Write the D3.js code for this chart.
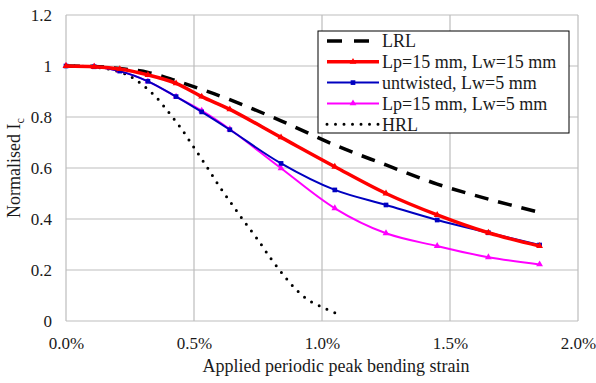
<!DOCTYPE html>
<html>
<head>
<meta charset="utf-8">
<script src="https://cdn.jsdelivr.net/npm/d3@7"></script>
<style>
  body { margin: 0; background: #fff; }
</style>
</head>
<body>
<div id="chart"></div>
<script>
// applied periodic peak bending strain (%), shared by the measured series
const strain = [0, 0.11, 0.21, 0.32, 0.43, 0.53, 0.64, 0.84, 1.05, 1.25, 1.45, 1.65, 1.85];
const lrl = [1.0, 0.998, 0.99, 0.975, 0.942, 0.908, 0.868, 0.785, 0.69, 0.612, 0.537, 0.478, 0.426];
const lp15lw15 = [1.0, 0.997, 0.988, 0.965, 0.932, 0.88, 0.83, 0.72, 0.605, 0.50, 0.416, 0.346, 0.294];
const untwisted = [1.0, 0.997, 0.98, 0.94, 0.88, 0.82, 0.75, 0.618, 0.514, 0.455, 0.396, 0.346, 0.298];
const lp15lw5 = [1.0, 0.997, 0.98, 0.94, 0.88, 0.825, 0.752, 0.599, 0.442, 0.344, 0.294, 0.25, 0.222];

// HRL curve
const hrlStrain = [0, 0.1, 0.2, 0.25, 0.3, 0.35, 0.4, 0.45, 0.5, 0.55, 0.6, 0.65, 0.7, 0.75, 0.8, 0.85, 0.9, 0.95, 1.0, 1.05];
const hrl = [1.0, 0.997, 0.98, 0.96, 0.925, 0.88, 0.82, 0.755, 0.68, 0.605, 0.527, 0.455, 0.385, 0.318, 0.245, 0.18, 0.122, 0.08, 0.055, 0.032];

const xTicks = [0, 0.5, 1.0, 1.5, 2.0];
const xTickLabels = ['0.0%', '0.5%', '1.0%', '1.5%', '2.0%'];
const yTicks = [0, 0.2, 0.4, 0.6, 0.8, 1, 1.2];
const yTickLabels = ['0', '0.2', '0.4', '0.6', '0.8', '1', '1.2'];

const seriesNames = ['LRL', 'Lp=15 mm, Lw=15 mm', 'untwisted, Lw=5 mm', 'Lp=15 mm, Lw=5 mm', 'HRL'];

const FONT = '"Liberation Serif", "Times New Roman", serif';
const W = 596, H = 383;
const margins = { top: 15, right: 18, bottom: 62, left: 66 };
const width = W - margins.left - margins.right;
const height = H - margins.top - margins.bottom;

const svg = d3.select('#chart').append('svg')
  .attr('width', W).attr('height', H);
svg.append('rect').attr('width', W).attr('height', H).attr('fill', '#fff');

const g = svg.append('g').attr('transform', `translate(${margins.left},${margins.top})`);

const x = d3.scaleLinear().domain([0, 2]).range([0, width]);
const y = d3.scaleLinear().domain([0, 1.2]).range([height, 0]);

// grid
g.selectAll('.hgrid').data(yTicks).enter().append('line')
  .attr('x1', 0).attr('x2', width)
  .attr('y1', d => y(d)).attr('y2', d => y(d))
  .attr('stroke', '#bdbdbd').attr('stroke-width', 1.2);
g.selectAll('.vgrid').data(xTicks).enter().append('line')
  .attr('y1', 0).attr('y2', height)
  .attr('x1', d => x(d)).attr('x2', d => x(d))
  .attr('stroke', '#bdbdbd').attr('stroke-width', 1.2);

// axes (labels only)
const xAxis = g.append('g')
  .attr('transform', `translate(0,${height})`)
  .call(d3.axisBottom(x).tickValues(xTicks).tickSize(0).tickPadding(16)
    .tickFormat((d, i) => xTickLabels[i]));
const yAxis = g.append('g')
  .call(d3.axisLeft(y).tickValues(yTicks).tickSize(0).tickPadding(14)
    .tickFormat((d, i) => yTickLabels[i]));
[xAxis, yAxis].forEach(a => {
  a.select('.domain').remove();
  a.attr('font-family', FONT).attr('font-size', 17);
  a.selectAll('text').attr('fill', '#1a1a1a');
});

svg.append('text')
  .attr('x', 336).attr('y', 372)
  .attr('text-anchor', 'middle')
  .attr('font-family', FONT)
  .attr('font-size', 18)
  .attr('fill', '#1a1a1a')
  .text('Applied periodic peak bending strain');

const yt = svg.append('text')
  .attr('transform', 'translate(20,168) rotate(-90)')
  .attr('text-anchor', 'middle')
  .attr('font-family', FONT)
  .attr('font-size', 18)
  .attr('fill', '#1a1a1a');
yt.append('tspan').text('Normalised I');
yt.append('tspan').attr('dy', 4).attr('font-size', 12).text('c');

const line = d3.line()
  .x(d => x(d[0])).y(d => y(d[1]))
  .curve(d3.curveCatmullRom.alpha(0.5));

const zip = (a, b) => a.map((v, i) => [v, b[i]]);

const styles = [
  { color: '#000', width: 3.5, dash: '14,10', cap: 'butt', marker: null },
  { color: '#ff0000', width: 3.5, dash: null, cap: 'butt', marker: 'triangle' },
  { color: '#0000c0', width: 2, dash: null, cap: 'butt', marker: 'square' },
  { color: '#ff00ff', width: 2, dash: null, cap: 'butt', marker: 'triangle' },
  { color: '#000', width: 3, dash: '0,8.5', cap: 'round', marker: null }
];

const datasets = [
  zip(strain, lrl),
  zip(strain, lp15lw15),
  zip(strain, untwisted),
  zip(strain, lp15lw5),
  zip(hrlStrain, hrl)
];

const drawOrder = [4, 0, 3, 2, 1];
drawOrder.forEach(i => {
  const s = styles[i];
  g.append('path')
    .datum(datasets[i])
    .attr('fill', 'none')
    .attr('stroke', s.color)
    .attr('stroke-width', s.width)
    .attr('stroke-dasharray', s.dash)
    .attr('stroke-linecap', s.cap)
    .attr('d', line);
  if (s.marker) {
    const sym = d3.symbol().type(s.marker === 'square' ? d3.symbolSquare : d3.symbolTriangle)
      .size(s.marker === 'square' ? 22 : 20);
    g.selectAll(null).data(datasets[i]).enter().append('path')
      .attr('transform', d => `translate(${x(d[0])},${y(d[1])})`)
      .attr('d', sym)
      .attr('fill', s.color);
  }
});

// legend
const lg = svg.append('g').attr('transform', 'translate(318,31)');
lg.append('rect').attr('width', 251).attr('height', 102)
  .attr('fill', '#fff').attr('stroke', '#000').attr('stroke-width', 1);
seriesNames.forEach((name, i) => {
  const s = styles[i];
  const cy = 10 + i * 20.8;
  lg.append('line')
    .attr('x1', 9).attr('x2', 61).attr('y1', cy).attr('y2', cy)
    .attr('stroke', s.color).attr('stroke-width', s.width)
    .attr('stroke-dasharray', s.dash === '14,10' ? '15,12' : s.dash)
    .attr('stroke-linecap', s.cap);
  if (s.marker) {
    const sym = d3.symbol().type(s.marker === 'square' ? d3.symbolSquare : d3.symbolTriangle)
      .size(s.marker === 'square' ? 22 : 20);
    lg.append('path').attr('transform', `translate(35,${cy})`).attr('d', sym).attr('fill', s.color);
  }
  lg.append('text')
    .attr('x', 64).attr('y', cy).attr('dy', '0.35em')
    .attr('font-family', FONT)
    .attr('font-size', 18)
    .attr('fill', '#1a1a1a')
    .text(name);
});
</script>
</body>
</html>
